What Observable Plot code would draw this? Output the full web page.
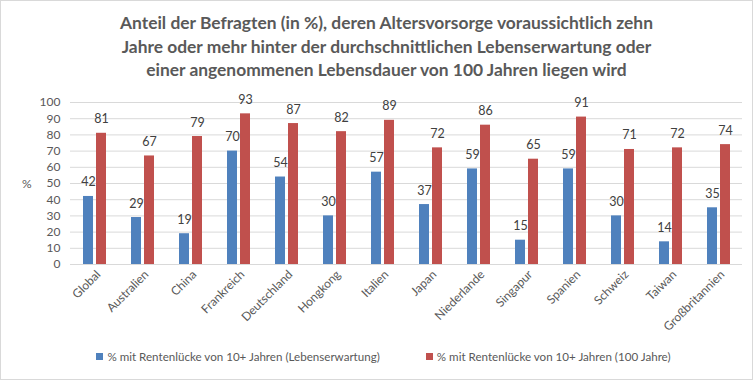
<!DOCTYPE html>
<html>
<head>
<meta charset="utf-8">
<script src="https://cdn.jsdelivr.net/npm/d3@7"></script>
<script src="https://cdn.jsdelivr.net/npm/@observablehq/plot@0.6"></script>
<style>
  html, body { margin: 0; padding: 0; background: #fff; }
  #chart { position: relative; width: 753px; height: 380px; overflow: hidden; font-family: Lato, "Open Sans", sans-serif; color: #595959; }
  #frame { position: absolute; left: 0; top: 0; width: 751px; height: 378px; border: 1px solid #d9d9d9; pointer-events: none; }
  #title { position: absolute; left: 10px; top: 11px; width: 753px; text-align: center; font-weight: bold; font-size: 17.4px; line-height: 23.5px; color: #595959; }
  #plot { position: absolute; left: 0; top: 90px; }
  #ylabel { position: absolute; left: 22px; top: 176px; font-size: 12px; color: #595959; }
  #legend { position: absolute; left: 7px; top: 350px; width: 753px; display: flex; justify-content: center; gap: 46px; font-size: 11.6px; color: #595959; }
  .item { display: flex; align-items: center; gap: 4px; }
  .sw { width: 7px; height: 7px; display: inline-block; }
</style>
</head>
<body>
<div id="chart">
  <div id="title">Anteil der Befragten (in %), deren Altersvorsorge voraussichtlich zehn<br>Jahre oder mehr hinter der durchschnittlichen Lebenserwartung oder<br>einer angenommenen Lebensdauer von 100 Jahren liegen wird</div>
  <div id="plot"></div>
  <div id="ylabel">%</div>
  <div id="legend"></div>
  <div id="frame"></div>
</div>
<script>
const countries = ["Global", "Australien", "China", "Frankreich", "Deutschland", "Hongkong", "Italien", "Japan", "Niederlande", "Singapur", "Spanien", "Schweiz", "Taiwan", "Großbritannien"];
const lebenserwartung = [42, 29, 19, 70, 54, 30, 57, 37, 59, 15, 59, 30, 14, 35];
const hundertJahre = [81, 67, 79, 93, 87, 82, 89, 72, 86, 65, 91, 71, 72, 74];
const seriesNames = ["% mit Rentenlücke von 10+ Jahren (Lebenserwartung)", "% mit Rentenlücke von 10+ Jahren (100 Jahre)"];
const seriesColors = ["#4f81bd", "#c0504d"];
const yTicks = [0, 10, 20, 30, 40, 50, 60, 70, 80, 90, 100];

const data = countries.flatMap((c, i) => [
  {country: c, series: seriesNames[0], value: lebenserwartung[i]},
  {country: c, series: seriesNames[1], value: hundertJahre[i]}
]);

const chart = Plot.plot({
  width: 753,
  height: 260,
  marginLeft: 68,
  marginRight: 9,
  marginTop: 12,
  marginBottom: 86,
  style: {fontFamily: "Lato, 'Open Sans', sans-serif", fontSize: "12px", color: "#595959", background: "transparent"},
  fx: {domain: countries, padding: 0, label: null},
  x: {domain: seriesNames, paddingInner: 0.25, paddingOuter: 0.85, axis: null},
  y: {domain: [0, 100]},
  color: {domain: seriesNames, range: seriesColors},
  marks: [
    Plot.ruleY(yTicks, {stroke: "#d9d9d9", strokeOpacity: 1}),
    Plot.barY(data, {fx: "country", x: "series", y: "value", fill: "series"}),
    Plot.text(data, {fx: "country", x: "series", y: "value", text: d => String(d.value), dy: -14, fill: "#404040", fontSize: 12.5}),
    Plot.axisY({ticks: yTicks, tickSize: 0, tickPadding: 10, label: null}),
    Plot.axisFx({anchor: "bottom", tickRotate: -45, tickSize: 0, tickPadding: 8, label: null, dx: 4})
  ]
});
document.getElementById("plot").appendChild(chart);

const legend = document.getElementById("legend");
seriesNames.forEach((name, i) => {
  const item = document.createElement("div");
  item.className = "item";
  const sw = document.createElement("span");
  sw.className = "sw";
  sw.style.background = seriesColors[i];
  const label = document.createElement("span");
  label.textContent = name;
  item.appendChild(sw);
  item.appendChild(label);
  legend.appendChild(item);
});
</script>
</body>
</html>
